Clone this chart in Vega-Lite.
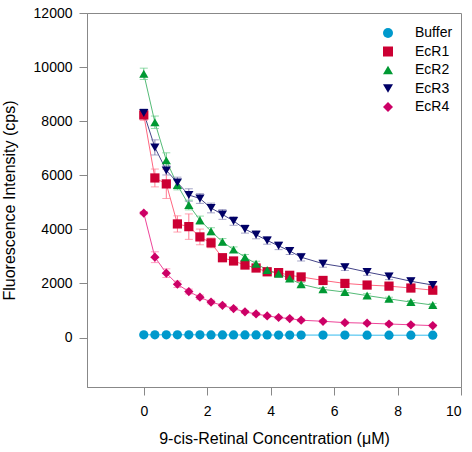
{
  "$schema": "https://vega.github.io/schema/vega-lite/v6.json",
  "width": 374,
  "height": 374,
  "autosize": {"type": "none"},
  "padding": {"left": 87, "top": 13, "right": 11, "bottom": 65},
  "config": {
    "view": {"stroke": "#888888", "strokeWidth": 1},
    "font": "Liberation Sans",
    "axis": {
      "grid": false,
      "domainColor": "#888888",
      "tickColor": "#888888",
      "tickSize": 8,
      "labelFont": "Liberation Sans",
      "labelFontSize": 14,
      "labelColor": "#000000",
      "titleFont": "Liberation Sans",
      "titleFontSize": 16,
      "titleFontWeight": "normal",
      "titleColor": "#000000"
    }
  },
  "data": {
    "values": [
      {"s":"Buffer","x":0,"y":100,"e":20},{"s":"Buffer","x":0.35,"y":100,"e":20},{"s":"Buffer","x":0.71,"y":100,"e":20},{"s":"Buffer","x":1.06,"y":100,"e":20},{"s":"Buffer","x":1.42,"y":100,"e":20},{"s":"Buffer","x":1.77,"y":100,"e":20},{"s":"Buffer","x":2.12,"y":95,"e":20},{"s":"Buffer","x":2.48,"y":95,"e":20},{"s":"Buffer","x":2.83,"y":95,"e":20},{"s":"Buffer","x":3.19,"y":95,"e":20},{"s":"Buffer","x":3.54,"y":95,"e":20},{"s":"Buffer","x":3.89,"y":95,"e":20},{"s":"Buffer","x":4.25,"y":90,"e":20},{"s":"Buffer","x":4.6,"y":90,"e":20},{"s":"Buffer","x":4.96,"y":90,"e":20},{"s":"Buffer","x":5.65,"y":90,"e":20},{"s":"Buffer","x":6.34,"y":90,"e":20},{"s":"Buffer","x":7.04,"y":85,"e":20},{"s":"Buffer","x":7.73,"y":85,"e":20},{"s":"Buffer","x":8.42,"y":85,"e":20},{"s":"Buffer","x":9.11,"y":85,"e":20},
      {"s":"EcR1","x":0,"y":8230,"e":200},{"s":"EcR1","x":0.35,"y":5900,"e":330},{"s":"EcR1","x":0.71,"y":5680,"e":540},{"s":"EcR1","x":1.06,"y":4200,"e":300},{"s":"EcR1","x":1.42,"y":4100,"e":470},{"s":"EcR1","x":1.77,"y":3720,"e":290},{"s":"EcR1","x":2.12,"y":3500,"e":180},{"s":"EcR1","x":2.48,"y":2950,"e":140},{"s":"EcR1","x":2.83,"y":2830,"e":120},{"s":"EcR1","x":3.19,"y":2680,"e":110},{"s":"EcR1","x":3.54,"y":2570,"e":100},{"s":"EcR1","x":3.89,"y":2430,"e":100},{"s":"EcR1","x":4.25,"y":2400,"e":100},{"s":"EcR1","x":4.6,"y":2300,"e":100},{"s":"EcR1","x":4.96,"y":2240,"e":100},{"s":"EcR1","x":5.65,"y":2110,"e":100},{"s":"EcR1","x":6.34,"y":2000,"e":90},{"s":"EcR1","x":7.04,"y":1940,"e":90},{"s":"EcR1","x":7.73,"y":1900,"e":90},{"s":"EcR1","x":8.42,"y":1830,"e":90},{"s":"EcR1","x":9.11,"y":1750,"e":90},
      {"s":"EcR2","x":0,"y":9750,"e":210},{"s":"EcR2","x":0.35,"y":7960,"e":230},{"s":"EcR2","x":0.71,"y":6550,"e":280},{"s":"EcR2","x":1.06,"y":5640,"e":180},{"s":"EcR2","x":1.42,"y":4900,"e":180},{"s":"EcR2","x":1.77,"y":4340,"e":150},{"s":"EcR2","x":2.12,"y":3930,"e":130},{"s":"EcR2","x":2.48,"y":3540,"e":120},{"s":"EcR2","x":2.83,"y":3250,"e":100},{"s":"EcR2","x":3.19,"y":2970,"e":100},{"s":"EcR2","x":3.54,"y":2730,"e":90},{"s":"EcR2","x":3.89,"y":2500,"e":80},{"s":"EcR2","x":4.25,"y":2360,"e":80},{"s":"EcR2","x":4.6,"y":2180,"e":80},{"s":"EcR2","x":4.96,"y":1970,"e":70},{"s":"EcR2","x":5.65,"y":1780,"e":70},{"s":"EcR2","x":6.34,"y":1680,"e":70},{"s":"EcR2","x":7.04,"y":1550,"e":70},{"s":"EcR2","x":7.73,"y":1430,"e":60},{"s":"EcR2","x":8.42,"y":1310,"e":60},{"s":"EcR2","x":9.11,"y":1200,"e":60},
      {"s":"EcR3","x":0,"y":8300,"e":150},{"s":"EcR3","x":0.35,"y":7030,"e":280},{"s":"EcR3","x":0.71,"y":6180,"e":170},{"s":"EcR3","x":1.06,"y":5730,"e":200},{"s":"EcR3","x":1.42,"y":5270,"e":230},{"s":"EcR3","x":1.77,"y":5140,"e":180},{"s":"EcR3","x":2.12,"y":4790,"e":180},{"s":"EcR3","x":2.48,"y":4550,"e":180},{"s":"EcR3","x":2.83,"y":4310,"e":160},{"s":"EcR3","x":3.19,"y":4010,"e":150},{"s":"EcR3","x":3.54,"y":3800,"e":150},{"s":"EcR3","x":3.89,"y":3590,"e":140},{"s":"EcR3","x":4.25,"y":3390,"e":140},{"s":"EcR3","x":4.6,"y":3200,"e":130},{"s":"EcR3","x":4.96,"y":2970,"e":140},{"s":"EcR3","x":5.65,"y":2730,"e":130},{"s":"EcR3","x":6.34,"y":2600,"e":120},{"s":"EcR3","x":7.04,"y":2420,"e":120},{"s":"EcR3","x":7.73,"y":2260,"e":120},{"s":"EcR3","x":8.42,"y":2080,"e":130},{"s":"EcR3","x":9.11,"y":1940,"e":120},
      {"s":"EcR4","x":0,"y":4600,"e":60},{"s":"EcR4","x":0.35,"y":2970,"e":200},{"s":"EcR4","x":0.71,"y":2380,"e":160},{"s":"EcR4","x":1.06,"y":1970,"e":120},{"s":"EcR4","x":1.42,"y":1700,"e":90},{"s":"EcR4","x":1.77,"y":1490,"e":80},{"s":"EcR4","x":2.12,"y":1310,"e":70},{"s":"EcR4","x":2.48,"y":1190,"e":60},{"s":"EcR4","x":2.83,"y":1070,"e":60},{"s":"EcR4","x":3.19,"y":950,"e":50},{"s":"EcR4","x":3.54,"y":870,"e":50},{"s":"EcR4","x":3.89,"y":800,"e":50},{"s":"EcR4","x":4.25,"y":740,"e":50},{"s":"EcR4","x":4.6,"y":700,"e":50},{"s":"EcR4","x":4.96,"y":640,"e":50},{"s":"EcR4","x":5.65,"y":600,"e":50},{"s":"EcR4","x":6.34,"y":550,"e":50},{"s":"EcR4","x":7.04,"y":530,"e":50},{"s":"EcR4","x":7.73,"y":500,"e":50},{"s":"EcR4","x":8.42,"y":470,"e":50},{"s":"EcR4","x":9.11,"y":440,"e":50}
    ]
  },
  "encoding": {
    "x": {
      "field": "x", "type": "quantitative",
      "scale": {"domain": [-1.79, 10], "nice": false, "zero": false},
      "axis": {"values": [0, 2, 4, 6, 8, 10], "title": "9-cis-Retinal Concentration (μM)", "labelPadding": 9, "titlePadding": 12}
    },
    "y": {
      "field": "y", "type": "quantitative",
      "scale": {"domain": [-1830, 12000], "nice": false, "zero": false},
      "axis": {"values": [0, 2000, 4000, 6000, 8000, 10000, 12000], "format": "d", "title": "Fluorescence Intensity (cps)", "labelPadding": 7, "titlePadding": 16}
    }
  },
  "layer": [
    {
      "mark": {"type": "line", "strokeWidth": 1},
      "encoding": {
        "color": {"field": "s", "type": "nominal", "legend": null,
          "scale": {"domain": ["Buffer", "EcR1", "EcR2", "EcR3", "EcR4"], "range": ["#33bbee", "#ff6680", "#55bb77", "#444488", "#ee4499"]}},
        "opacity": {"field": "s", "type": "ordinal",
          "scale": {"domain": ["Buffer", "EcR1", "EcR2", "EcR3", "EcR4"], "range": [1, 1, 1, 1, 1]},
          "legend": {
            "title": null,
            "orient": "none",
            "legendX": 294,
            "legendY": 13,
            "padding": 0,
            "symbolSize": 100,
            "labelOffset": 20,
            "rowPadding": 4.5,
            "labelFontSize": 14,
            "labelFont": "Liberation Sans",
            "labelColor": "#000000",
            "encode": {
              "symbols": {
                "update": {
                  "shape": {"signal": "datum.value === 'Buffer' ? 'M-3.2,-0.1H3.2V0.1H-3.2ZM-0.85,0A0.85,0.85 0 1 1 0.85,0A0.85,0.85 0 1 1 -0.85,0Z' : datum.value === 'EcR1' ? 'M-3.2,-0.1H3.2V0.1H-3.2ZM-0.85,-0.85H0.85V0.85H-0.85Z' : datum.value === 'EcR2' ? 'M-3.2,-0.1H3.2V0.1H-3.2ZM0,-0.95L0.95,0.7H-0.95Z' : datum.value === 'EcR3' ? 'M-3.2,-0.1H3.2V0.1H-3.2ZM0,0.95L0.95,-0.7H-0.95Z' : 'M-3.2,-0.1H3.2V0.1H-3.2ZM0,-1L1,0L0,1L-1,0Z'"},
                  "stroke": {"value": "transparent"},
                  "fill": {"signal": "datum.value === 'Buffer' ? '#0099cc' : datum.value === 'EcR1' ? '#cc0033' : datum.value === 'EcR2' ? '#009933' : datum.value === 'EcR3' ? '#000066' : '#cc0066'"},
                  "strokeWidth": {"value": 0}
                }
              }
            }
          }
        }
      }
    },
    {
      "mark": {"type": "errorbar", "thickness": 1, "ticks": {"size": 8, "thickness": 1}},
      "encoding": {
        "yError": {"field": "e"},
        "color": {"field": "s", "type": "nominal", "legend": null,
          "scale": {"domain": ["Buffer", "EcR1", "EcR2", "EcR3", "EcR4"], "range": ["#66ccee", "#ff7a90", "#66cc88", "#8080b0", "#ff77aa"]}}
      }
    },
    {
      "mark": {"type": "point", "filled": true, "size": 85, "opacity": 1},
      "encoding": {
        "shape": {"field": "s", "type": "nominal", "legend": null,
          "scale": {"domain": ["Buffer", "EcR1", "EcR2", "EcR3", "EcR4"], "range": ["circle", "square", "triangle-up", "triangle-down", "diamond"]}},
        "color": {"field": "s", "type": "nominal", "legend": null,
          "scale": {"domain": ["Buffer", "EcR1", "EcR2", "EcR3", "EcR4"], "range": ["#0099cc", "#cc0033", "#009933", "#000066", "#cc0066"]}}
      }
    }
  ],
  "resolve": {"scale": {"color": "independent"}}
}
